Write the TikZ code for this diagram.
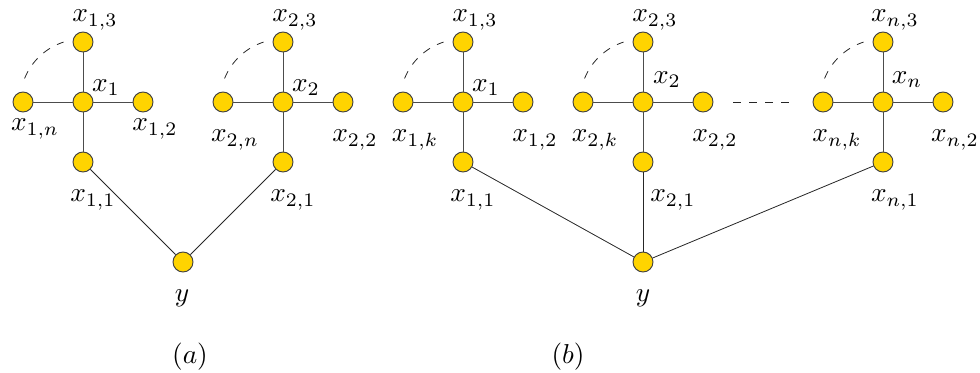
\documentclass[tikz,border=0pt]{standalone}
\usepackage{graphicx}
\newcommand{\lblmath}[1]{\scalebox{2.05}{$#1$}}
\begin{document}
\begin{tikzpicture}[x=0.75pt,y=-0.75pt,
  vtx/.style={circle,draw=black!75,line width=0.7pt,fill=vyellow,minimum size=15pt,inner sep=0pt},
  lbl/.style={inner sep=0pt},
  spoke/.style={draw=black!70,line width=0.7pt},
  link/.style={draw=black!85,line width=0.6pt},
  dsh/.style={draw=black!85,line width=0.6pt,dash pattern=on 6pt off 6pt}]
\definecolor{vyellow}{RGB}{255,212,0}
\useasboundingbox (0,0) rectangle (980,372);
% ---------- (a) cluster 1 ----------
\node[vtx] (a1)  at (83,102) {};
\node[vtx] (a13) at (83,42) {};
\node[vtx] (a1n) at (23,102) {};
\node[vtx] (a12) at (143,102) {};
\node[vtx] (a11) at (83,162) {};
% ---------- (a) cluster 2 ----------
\node[vtx] (a2)  at (283,102) {};
\node[vtx] (a23) at (283,42) {};
\node[vtx] (a2n) at (223,102) {};
\node[vtx] (a22) at (343,102) {};
\node[vtx] (a21) at (283,162) {};
\node[vtx] (ay)  at (183,262) {};
% ---------- (b) cluster 1 ----------
\node[vtx] (b1)  at (463,102) {};
\node[vtx] (b13) at (463,42) {};
\node[vtx] (b1k) at (403,102) {};
\node[vtx] (b12) at (523,102) {};
\node[vtx] (b11) at (463,162) {};
% ---------- (b) cluster 2 ----------
\node[vtx] (b2)  at (643,102) {};
\node[vtx] (b23) at (643,42) {};
\node[vtx] (b2k) at (583,102) {};
\node[vtx] (b22) at (703,102) {};
\node[vtx] (b21) at (643,162) {};
% ---------- (b) cluster n ----------
\node[vtx] (bn)  at (883,102) {};
\node[vtx] (bn3) at (883,42) {};
\node[vtx] (bnk) at (823,102) {};
\node[vtx] (bn2) at (943,102) {};
\node[vtx] (bn1) at (883,162) {};
\node[vtx] (by)  at (643,262) {};
% ---------- edges ----------
\foreach \c/\t/\l/\r/\b in {a1/a13/a1n/a12/a11, a2/a23/a2n/a22/a21, b1/b13/b1k/b12/b11, b2/b23/b2k/b22/b21, bn/bn3/bnk/bn2/bn1}{
  \draw[spoke] (\c) -- (\t);
  \draw[spoke] (\c) -- (\l);
  \draw[spoke] (\c) -- (\r);
  \draw[spoke] (\c) -- (\b);
  \draw[dsh] ([shift={(-158:63)}]\c.center) arc[start angle=-158,end angle=-108,radius=63];
}
\draw[link] (a11) -- (ay);
\draw[link] (a21) -- (ay);
\draw[link] (b11) -- (by);
\draw[link] (b21) -- (by);
\draw[link] (bn1) -- (by);
\coordinate (dl) at (733,102);
\coordinate (dr) at (790,102);
\draw[dsh] (dl) -- (dr);
% ---------- labels (a) ----------
\node[lbl] (la13) at (95,20) {\lblmath{x_{1,3}}};
\node[lbl] (la1)  at (106,88) {\lblmath{x_1}};
\node[lbl] (la1n) at (35,129) {\lblmath{x_{1,n}}};
\node[lbl] (la12) at (155,129) {\lblmath{x_{1,2}}};
\node[lbl] (la11) at (93,200) {\lblmath{x_{1,1}}};
\node[lbl] (la23) at (295,20) {\lblmath{x_{2,3}}};
\node[lbl] (la2)  at (306,88) {\lblmath{x_2}};
\node[lbl] (la2n) at (235,140) {\lblmath{x_{2,n}}};
\node[lbl] (la22) at (355,140) {\lblmath{x_{2,2}}};
\node[lbl] (la21) at (293,200) {\lblmath{x_{2,1}}};
\node[lbl] (lay)  at (182,298) {\lblmath{y}};
\node[lbl] (capa) at (190,357) {\lblmath{(a)}};
% ---------- labels (b) ----------
\node[lbl] (lb13) at (475,20) {\lblmath{x_{1,3}}};
\node[lbl] (lb1)  at (486,88) {\lblmath{x_1}};
\node[lbl] (lb1k) at (415,140) {\lblmath{x_{1,k}}};
\node[lbl] (lb12) at (535,140) {\lblmath{x_{1,2}}};
\node[lbl] (lb11) at (473,200) {\lblmath{x_{1,1}}};
\node[lbl] (lb23) at (655,20) {\lblmath{x_{2,3}}};
\node[lbl] (lb2)  at (667,80) {\lblmath{x_2}};
\node[lbl] (lb2k) at (595,140) {\lblmath{x_{2,k}}};
\node[lbl] (lb22) at (715,140) {\lblmath{x_{2,2}}};
\node[lbl] (lb21) at (673,200) {\lblmath{x_{2,1}}};
\node[lbl] (lbn3) at (895,20) {\lblmath{x_{n,3}}};
\node[lbl] (lbn)  at (907,80) {\lblmath{x_n}};
\node[lbl] (lbnk) at (837,140) {\lblmath{x_{n,k}}};
\node[lbl] (lbn2) at (955,140) {\lblmath{x_{n,2}}};
\node[lbl] (lbn1) at (895,200) {\lblmath{x_{n,1}}};
\node[lbl] (lby)  at (643,298) {\lblmath{y}};
\node[lbl] (capb) at (568,357) {\lblmath{(b)}};
\end{tikzpicture}
\end{document}
